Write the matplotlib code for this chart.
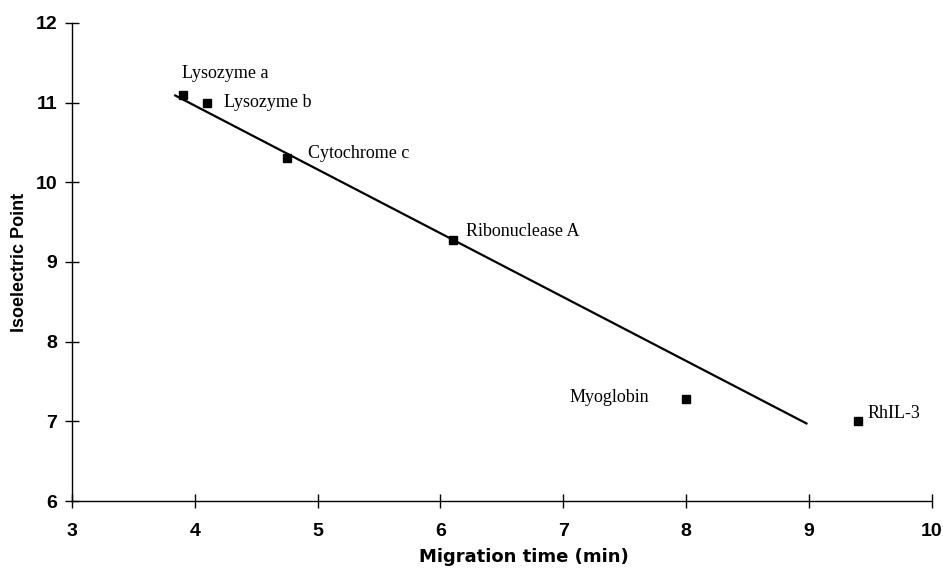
import numpy as np
import matplotlib
matplotlib.use("Agg")
import matplotlib.pyplot as plt

# migration time (min) vs isoelectric point for the standard proteins
proteins = ["Lysozyme a", "Lysozyme b", "Cytochrome c", "Ribonuclease A", "Myoglobin", "RhIL-3"]
migration = [3.9, 4.1, 4.75, 6.1, 8.0, 9.4]
pI = [11.1, 11.0, 10.3, 9.28, 7.28, 7.0]
fit_range = [3.84, 8.98]

x_ticks = [3, 4, 5, 6, 7, 8, 9, 10]
y_ticks = [6, 7, 8, 9, 10, 11, 12]

# label offsets in pixels (dx, dy) and alignment
label_pos = {
    "Lysozyme a": (-1, 21, "left"),
    "Lysozyme b": (17, 0, "left"),
    "Cytochrome c": (21, 5, "left"),
    "Ribonuclease A": (13, 8, "left"),
    "Myoglobin": (-37, 2, "right"),
    "RhIL-3": (10, 8, "left"),
}

fig = plt.figure(figsize=(9.43, 5.72), dpi=100)
ax = fig.add_axes([0.0764, 0.124, 0.9116, 0.836])

# least squares line
slope, icpt = np.polyfit(migration, pI, 1)
fx = np.array(fit_range)
ax.plot(fx, slope * fx + icpt, color="black", lw=1.6)

ax.plot(migration, pI, "s", color="black", ms=5.5, ls="none")

for name, x, y in zip(proteins, migration, pI):
    dx, dy, ha = label_pos[name]
    ax.annotate(name, (x, y), xytext=(dx, dy), textcoords="offset pixels",
                ha=ha, va="center", family="Liberation Serif", fontsize=13)

tick_font = dict(family="Liberation Sans", fontweight="bold", fontsize=14)
ax.set_xlim(3, 10)
ax.set_ylim(6, 12)
ax.set_xticks(x_ticks, [str(t) for t in x_ticks], **tick_font)
ax.set_yticks(y_ticks, [str(t) for t in y_ticks], **tick_font)
for s in ["top", "right"]:
    ax.spines[s].set_visible(False)
for s in ["left", "bottom"]:
    ax.spines[s].set_linewidth(1.0)
ax.tick_params(direction="inout", length=10, width=1.0)
ax.tick_params(axis="y", pad=5.5)
ax.tick_params(axis="x", pad=11)

ax.set_xlabel("Migration time (min)", family="DejaVu Sans", fontweight="bold", fontsize=13, va="center")
ax.xaxis.set_label_coords(0.526, -0.117)
ax.set_ylabel("Isoelectric Point", family="Liberation Sans", fontweight="bold", fontsize=13, va="center")
ax.yaxis.set_label_coords(-0.061, 0.5)

fig.savefig("out.png", dpi=100)
